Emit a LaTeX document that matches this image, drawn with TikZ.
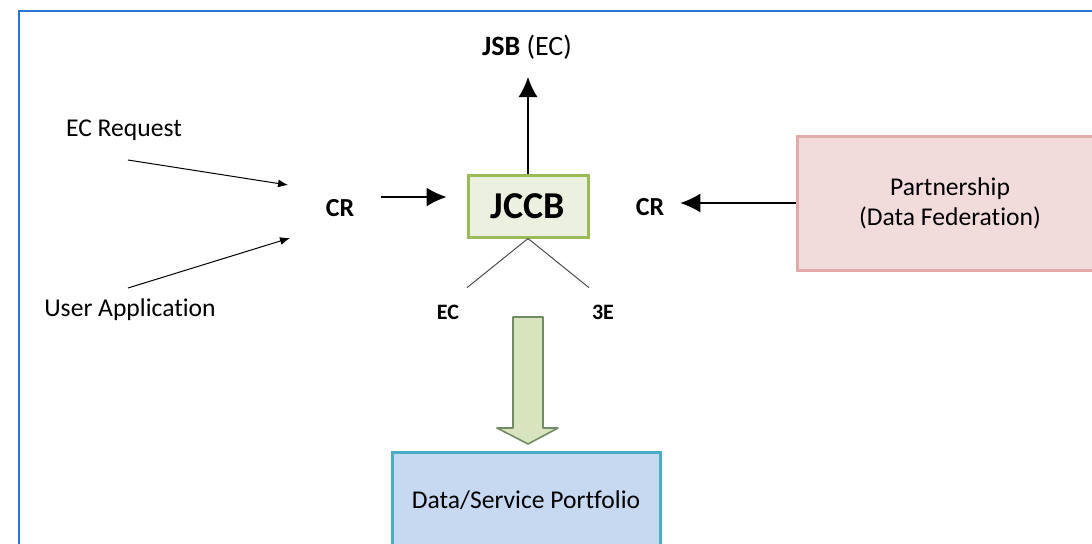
\documentclass[tikz,border=0pt]{standalone}
\usepackage{fontspec}
\setmainfont[Ligatures=NoCommon]{Carlito}
\usetikzlibrary{arrows.meta}

\definecolor{framebl}{RGB}{36,120,208}
\definecolor{jccbfill}{RGB}{235,241,222}
\definecolor{jccbdraw}{RGB}{155,187,89}
\definecolor{partfill}{RGB}{242,220,219}
\definecolor{partdraw}{RGB}{226,170,168}
\definecolor{portfill}{RGB}{198,217,241}
\definecolor{portdraw}{RGB}{75,172,198}
\definecolor{flowfill}{RGB}{215,228,189}
\definecolor{flowdraw}{RGB}{112,140,100}

\begin{document}
\begin{tikzpicture}[
    x=0.5pt, y=-0.5pt,
    box/.style={draw, line width=1.5pt, align=center},
    lab/.style={font=\fontsize{12.8}{15}\selectfont},
    blab/.style={font=\bfseries\fontsize{13}{15}\selectfont},
    link/.style={line width=0.5pt, -{Latex[length=5pt,width=4pt]}},
    bigarrow/.style={line width=0.7pt, -{Latex[length=10pt,width=9.5pt]}}
]

% Cadre de la page
\useasboundingbox (0,0) rectangle (1092,543);
\draw[framebl, line width=1pt] (19,560) -- (19,11) -- (1100,11);

% Boites
\node[box, draw=jccbdraw, fill=jccbfill, minimum width=60pt, minimum height=31pt,
      font=\bfseries\fontsize{19}{22}\selectfont] (jccb) at (528,206) {JCCB};
\node[box, draw=partdraw, fill=partfill, minimum width=153pt, minimum height=67pt, lab] (partner) at (950,203) {Partnership\\(Data Federation)};
\node[box, draw=portdraw, fill=portfill, minimum width=134pt, minimum height=48pt, lab] (portfolio) at (526,500) {Data/Service Portfolio};

% Etiquettes
\node[font=\fontsize{14}{16}\selectfont] (jsb) at (527,47) {\textbf{JSB} (EC)};
\node[blab] (crleft) at (340,208) {CR};
\node[blab] (crright) at (650,207) {CR};
\node[lab] (ecreq) at (124,130) {EC Request};
\node[lab] (userapp) at (130,310) {User Application};
\node[font=\bfseries\fontsize{11}{13}\selectfont] (ec) at (448,312) {EC};
\node[font=\bfseries\fontsize{11}{13}\selectfont] (threee) at (603,312) {3E};

% Extremites libres
\coordinate (ecreqout) at (128,160);
\coordinate (ecreqin) at (288,185);
\coordinate (userout) at (128,288);
\coordinate (userin) at (290,238);
\coordinate (jsbtip) at (528,77);

% Fleches
\draw[link] (ecreqout) -- (ecreqin);
\draw[link] (userout) -- (userin);
\draw[bigarrow] (jccb.north) -- (jsbtip);
\draw[bigarrow, shorten <=10pt, shorten >=10pt] ([yshift=5.5pt]crleft.east) -- ([yshift=5.5pt]crleft.east -| jccb.west);
\draw[bigarrow, shorten >=4.5pt] (partner.west) -- (partner.west -| crright.east);

% Branches EC / 3E
\draw[line width=0.5pt, black!70] (jccb.south) -- ([shift={(9.5pt,5pt)}]ec.north);
\draw[line width=0.5pt, black!70] (jccb.south) -- ([shift={(-7pt,5pt)}]threee.north);

% Grosse fleche vers le portfolio
\draw[flowdraw, fill=flowfill, line width=0.8pt, line join=round]
  (513,317) -- (543,317) -- (543,428) -- (558,428) -- (528,444)
  -- (497,428) -- (513,428) -- cycle;

\end{tikzpicture}
\end{document}
